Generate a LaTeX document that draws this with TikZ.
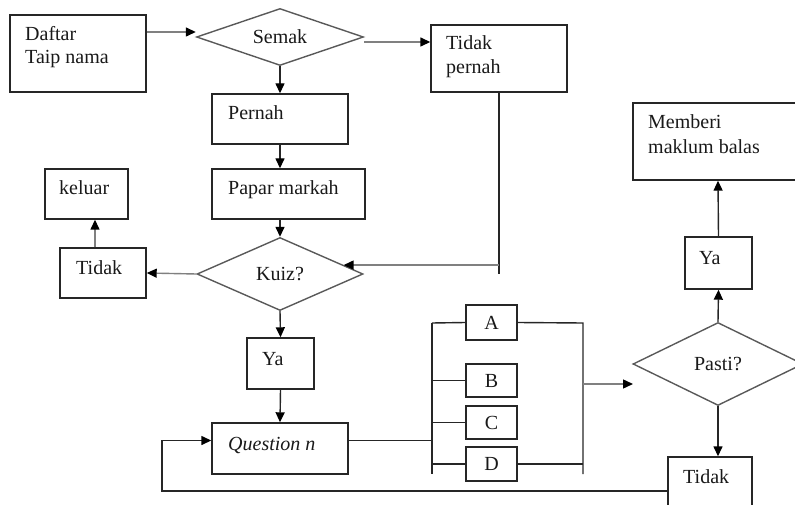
\documentclass[tikz,border=0pt]{standalone}
\usepackage{fontspec}
\setmainfont{Liberation Serif}
\usetikzlibrary{shapes.geometric,arrows.meta,calc}
\begin{document}
\begin{tikzpicture}[x=1pt,y=-1pt,
  box/.style={draw=black!85, line width=1.4pt, rectangle, inner sep=0pt},
  dia/.style={draw=black!65, line width=1.4pt, diamond, aspect=2.5, inner sep=0pt, font=\fontsize{20}{24}\selectfont, text=black!90},
  lbl/.style={inner sep=0pt, font=\fontsize{20}{24}\selectfont, text=black!90},
  txt/.style={lbl, anchor=base west},
  ln/.style={draw=black!85, line width=1.4pt},
  gln/.style={draw=black!50, line width=1.4pt},
  tip/.style={-{Triangle[length=10pt,width=9pt,color=black]}},
  arr/.style={ln, tip},
  garr/.style={gln, tip}]
\useasboundingbox (0,0) rectangle (795,505);
\clip (0,0) rectangle (795,505);

% boxes
\node[box, minimum width=136pt, minimum height=77pt] (daftar) at (78,53.5) {};
\node[box, minimum width=136pt, minimum height=67pt] (tp) at (499,58.5) {};
\node[box, minimum width=136pt, minimum height=50pt] (pernah) at (280,119) {};
\node[box, minimum width=153pt, minimum height=50pt] (papar) at (288.5,194) {};
\node[box, minimum width=83pt, minimum height=50pt] (keluar) at (86.5,194) {};
\node[box, minimum width=86pt, minimum height=50pt] (tidakL) at (103,273) {};
\node[box, minimum width=67pt, minimum height=51pt] (ya1) at (280.5,363.5) {};
\node[box, minimum width=136pt, minimum height=51pt] (q) at (280,448.5) {};
\node[box, minimum width=51pt, minimum height=35pt, lbl] (A) at (491.5,322.5) {A};
\node[box, minimum width=51pt, minimum height=33pt, lbl] (B) at (491.5,380.5) {B};
\node[box, minimum width=51pt, minimum height=33pt, lbl] (C) at (491.5,422.5) {C};
\node[box, minimum width=51pt, minimum height=34pt, lbl] (D) at (491.5,464) {D};
\node[box, minimum width=67pt, minimum height=52pt] (ya2) at (718.5,263) {};
\node[box, minimum width=170pt, minimum height=77pt] (memberi) at (718,141.5) {};
\node[box, minimum width=84pt, minimum height=68pt] (tidakR) at (710,491) {};

% diamonds
\node[dia, minimum width=167pt, minimum height=57pt] (semak) at (280,37) {Semak};
\node[dia, minimum width=166pt, minimum height=73pt] (kuiz) at (280,274) {Kuiz?};
\node[dia, minimum width=170pt, minimum height=83pt] (pasti) at (718,364) {Pasti?};

% texts
\node[txt] (t1) at (25,41) {Daftar};
\node[txt] (t2) at (25,64) {Taip nama};
\node[txt] (t3) at (446,50) {Tidak};
\node[txt] (t4) at (446,74) {pernah};
\node[txt] (t5) at (228,120) {Pernah};
\node[txt] (t6) at (228,195) {Papar markah};
\node[txt] (t7) at (59,195) {keluar};
\node[txt] (t8) at (76,274) {Tidak};
\node[txt] (t9) at (262,365) {Ya};
\node[txt] (t10) at (228,450) {\itshape Question n};
\node[txt] (t11) at (648,129) {Memberi};
\node[txt] (t12) at (648,154) {maklum balas};
\node[txt] (t13) at (699,264) {Ya};
\node[txt] (t14) at (683,483) {Tidak};

% coordinates
\coordinate (sw) at ([yshift=5pt]semak.west);
\coordinate (se) at ([yshift=-5pt]semak.east);
\coordinate (tpc) at (tp.south |- kuiz.8);
\coordinate (loopc) at (162,491);
\coordinate (blt) at (432,323);
\coordinate (blb) at (432,474);
\coordinate (brt) at (583,323);
\coordinate (brb) at (583,474);
\coordinate (pin) at (633,384);

% connectors
\draw[garr] (daftar.east |- sw) -- (sw);
\draw[garr] (se) -- (se -| tp.west);
\draw[arr] (semak.south) -- (pernah.north);
\draw[arr] (pernah.south) -- (pernah.south |- papar.north);
\draw[arr] (papar.south -| kuiz.north) -- (kuiz.north);
\draw[ln] (tp.south) -- ($(tpc)+(0,9)$);
\draw[garr] (tpc) -- (kuiz.8);
\draw[garr] (kuiz.west) -- (tidakL.east);
\draw[gln, tip] ([xshift=-8pt]tidakL.north) -- ([xshift=-8pt]tidakL.north |- keluar.south);
\draw[arr] (kuiz.south) -- (ya1.north);
\draw[arr] (ya1.south) -- (q.north);
\draw[arr] (tidakR.west) -- (loopc) |- ([yshift=8pt]q.west);
\draw[ln] ([yshift=8pt]q.east) -- ([yshift=8pt]q.east -| blt);
\draw[ln] (blt) -- (blb);
\draw[ln] (blt) -- (A.west);
\draw[ln] (B.west -| blt) -- (B.west);
\draw[ln] (C.west -| blt) -- (C.west);
\draw[ln] (D.west -| blt) -- (D.west);
\draw[ln] (A.east) -- (brt) -- (brb);
\draw[ln] (D.east) -- (D.east -| brt);
\draw[garr] (brt |- pin) -- (pin);
\draw[arr] (pasti.north) -- (ya2.south);
\draw[arr] (ya2.north) -- (memberi.south);
\draw[arr] (pasti.south) -- (pasti.south |- tidakR.north);
\end{tikzpicture}
\end{document}
